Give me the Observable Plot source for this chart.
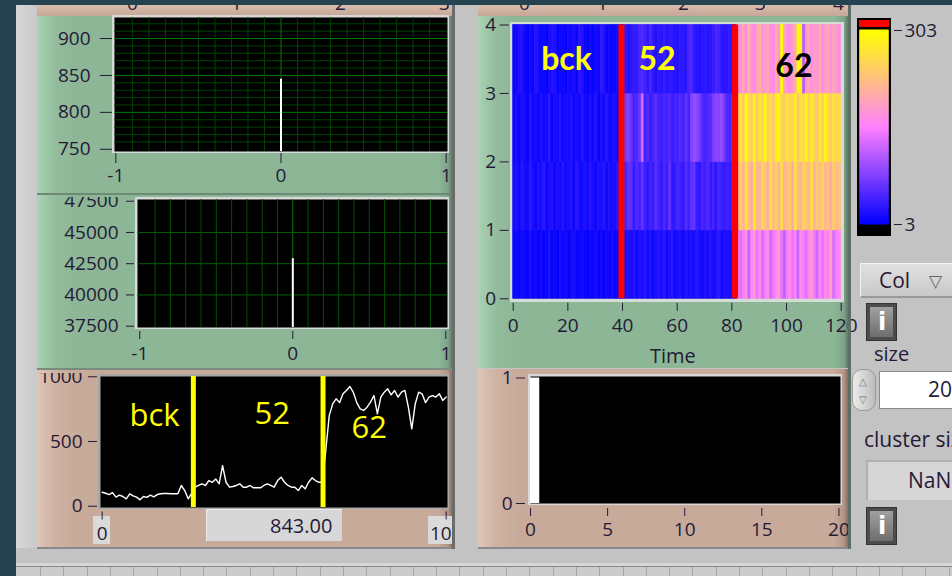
<!DOCTYPE html>
<html><head><meta charset="utf-8">
<script src="https://cdn.jsdelivr.net/npm/d3@7"></script>
<script src="https://cdn.jsdelivr.net/npm/@observablehq/plot@0.6"></script>
<style>
html,body{margin:0;padding:0;background:#24424f;}
#root{position:relative;width:952px;height:576px;overflow:hidden;background:#24424f;font-family:"Open Sans",sans-serif;color:#241a36;}
.abs{position:absolute;box-sizing:border-box;}
.txt{position:absolute;white-space:nowrap;line-height:1;}
</style></head><body><div id="root"></div>
<script>
// ================= DATA =================
// top-left graph: single point at x = 0
const topSpikeX = [0];
const topSpikeValue = [845];
const topXTicks = [-1, 0, 1];
const topYTicks = [750, 800, 850, 900];

// middle-left graph: single point at x = 0
const midSpikeX = [0];
const midSpikeValue = [42900];
const midXTicks = [-1, 0, 1];
const midYTicks = [37500, 40000, 42500, 45000, 47500];

// bottom-left: count trace
const countValues = [108,100,90,105,70,85,75,57,96,80, 70,49,75,68,85,72,90,96,98,98,
  96,96,96,160,121,57,100,147,160,173, 160,198,185,211,173,314,185,147,152,160,
  173,147,147,160,142,142,142,160,173,160, 147,198,224,185,160,147,147,121,160,134,
  185,219,198,185,185,430,700,790,830,800, 868,894,925,880,800,752,740,765,804,855,
  714,843,881,907,860,894,843,881,894,765, 598,790,881,868,800,843,855,843,868,817, 843];
const countMarkers = [26.5, 64.2];
const countLabelText = ["bck", "52", "62"];
const countLabelTime = [15.2, 49.4, 77.6];
const countLabelLevel = [693, 709, 600];
const countXTicks = [0, 100];
const countYTicks = [0, 500, 1000];
const currentValue = "843.00";

// intensity graph: 4 rows x 120 time columns
const heatRow0 = [8,12,6,15,10,5,18,9,12,7, 14,6,10,20,8,11,5,16,9,13, 7,12,18,6,10,14,8,5,12,9, 16,7,11,6,13,8,15,10,6,12,
  14,18,22,15,25,12,20,16,28,14, 22,10,18,24,15,30,12,20,26,14, 18,22,10,25,16,20,14,28,18,12, 22,16,24,14,20,30,15,18,22,16, 20,18,
  160,135,150,175,120,155,185,140,160,130, 150,170,125,145,160,190,135,115,150,165, 140,155,120,170,150,135,160,180,145,125, 155,140,165,150,195,130,150,160];
const heatRow1 = [14,20,10,25,16,12,28,18,10,22, 15,30,12,18,24,10,20,14,26,12, 18,22,10,28,16,12,20,14,24,18, 10,22,16,28,12,20,14,18,24,16,
  30,45,60,55,35,50,40,62,38,30, 42,35,55,40,32,48,36,60,28,34, 44,38,30,52,40,58,62,36,30,45, 38,50,34,42,30,46,38,32,40,36, 44,30,
  225,245,210,265,235,200,280,220,215,255, 235,205,270,225,245,215,260,210,230,240, 200,275,225,215,250,235,220,265,210,240, 225,255,215,235,205,245,220,230];
const heatRow2 = [10,18,8,22,14,6,25,12,16,9, 20,11,15,28,8,18,12,24,10,16, 14,22,9,17,12,26,15,10,20,13, 24,8,18,14,28,11,16,20,10,15,
  55,70,80,60,45,50,65,130,40,50, 35,45,55,40,38,48,42,50,35,45, 40,52,38,60,45,80,90,85,70,50, 42,48,55,75,85,80,90,70,50,45, 60,55,
  255,275,240,300,262,248,290,235,270,255, 300,245,265,238,280,300,252,240,272,258, 248,292,235,266,255,298,245,282,252,236, 272,250,296,262,240,268,250,258];
const heatRow3 = [8,12,20,25,10,6,14,9,24,18, 8,12,6,15,25,20,8,10,12,6, 14,9,18,8,28,22,10,6,12,8, 14,10,30,24,8,12,6,10,14,8,
  25,30,22,28,35,32,45,50,40,30, 48,28,22,30,26,35,24,30,28,25, 22,30,28,26,45,50,30,26,22,28, 30,24,26,35,48,42,30,25,28,32, 30,26,
  190,170,200,165,215,180,160,195,210,175, 185,200,170,160,210,180,300,195,175,165, 185,205,300,290,110,180,200,170,190,175, 205,165,185,200,175,195,180,170];
const heatMarkers = [39.6, 81.2];
const heatLabelText = ["bck", "52", "62"];
const heatLabelTime = [19.5, 52.6, 102.7];
const heatLabelRow = [3.49, 3.49, 3.39];
const heatXTicks = [0, 20, 40, 60, 80, 100, 120];
const heatYTicks = [0, 1, 2, 3, 4];
const colorDomain = [3, 153, 303];
const colorRange = ["#0000ff", "#ff80ff", "#ffff00"];
const colorTicks = [3, 303];

// bottom-right histogram
const histLeft = [0];
const histRight = [0.6];
const histCount = [1];
const histXTicks = [0, 5, 10, 15, 20];
const histYTicks = [0, 1];

// ================= BUILD =================
const INK = "#241a36";
const FONT = '"Open Sans", sans-serif';
const root = document.getElementById("root");
function box(x, y, w, h, css) {
  const d = document.createElement("div");
  d.className = "abs";
  d.style.cssText += `left:${x}px;top:${y}px;width:${w}px;height:${h}px;` + (css || "");
  root.appendChild(d);
  return d;
}
function label(parent, x, y, text, css) {
  const s = document.createElement("div");
  s.className = "txt";
  s.textContent = text;
  s.style.cssText += `left:${x}px;top:${y}px;` + (css || "");
  parent.appendChild(s);
  return s;
}
const GREEN = "linear-gradient(to right,#a9d3b4 0px,#93bc9c 18px,#8db696 40px,#8db696 calc(100% - 14px),#7ea48a calc(100% - 4px),#5f7a66 100%)";
const BEIGE = "linear-gradient(to right,#dfc6b8 0px,#cfb2a2 18px,#c8aa9a 40px,#c8aa9a calc(100% - 14px),#b39585 calc(100% - 4px),#857064 100%)";
const BEIGE_TOP = "linear-gradient(#d9bcac,#c6a797)";

// background
box(16, 5, 936, 571, "background:#c3c3c3;");
box(16, 5, 21, 543, "background:linear-gradient(to right,#d8d8d8,#c9c9c9);");
// left column panels
const lStrip = box(37, 5, 415, 11, "background:" + BEIGE_TOP + ";overflow:hidden;");
[[96, "0"], [200, "1"], [304, "2"], [408, "3"]].forEach(([x, t]) => label(lStrip, x - 6, -11, t, "font-size:19px;color:" + INK));
box(37, 16, 415, 177, "background:" + GREEN + ";");
box(37, 195, 415, 173, "background:" + GREEN + ";");
box(37, 369, 415, 178, "background:" + BEIGE + ";");
box(37, 547, 415, 2, "background:#8a8a8a;");
// right column panels
const rStrip = box(478, 5, 370, 11, "background:" + BEIGE_TOP + ";overflow:hidden;");
[[47, "0"], [125, "1"], [206, "2"], [283, "3"], [361, "4"]].forEach(([x, t]) => label(rStrip, x - 6, -11, t, "font-size:19px;color:" + INK));
box(478, 16, 370, 352, "background:" + GREEN + ";");
box(478, 369, 370, 178, "background:" + BEIGE + ";");
box(478, 547, 370, 2, "background:#8a8a8a;");
// borders behind the plot areas
box(112, 15, 337, 138, "background:#d8d8d8;");
box(135, 197, 314, 132, "background:#d8d8d8;");
box(98, 374, 351, 135, "background:#a8a8a8;");
box(509.5, 21.5, 334, 280, "background:#d3ddd3;");
box(528, 374, 314, 131, "background:#d8d8d8;");
// value display & axis-end label boxes
box(93, 516, 17, 28, "background:#dadada;");
box(428, 516, 24, 28, "background:#dadada;");
const disp = box(206, 509, 136, 32, "background:#d7d7d7;border-top:1px solid #eee;border-left:1px solid #eee;");
label(disp, 63, 6, currentValue, "font-size:20px;color:" + INK);
label(root, 650, 346, "Time", "font-size:20px;color:" + INK);

function chart(x0, y0, x1, y1, opts) {
  const svg = Plot.plot({
    width: 952, height: 576,
    marginLeft: x0, marginTop: y0, marginRight: 952 - x1, marginBottom: 576 - y1,
    style: {fontFamily: FONT, fontSize: "19px", color: INK, background: "transparent", overflow: "visible"},
    ...opts
  });
  svg.style.position = "absolute"; svg.style.left = "0px"; svg.style.top = "0px";
  root.appendChild(svg);
  return svg;
}
const fmt = d => String(d);
const tenths = d3.range(-9, 10).filter(i => i !== 0).map(i => i / 10);

// 1. top-left
chart(114, 17, 447, 151, {
  x: {domain: [-1.008, 1.008], label: null},
  y: {domain: [747, 928.5], label: null},
  marks: [
    Plot.frame({fill: "black"}),
    Plot.gridY(d3.range(760, 930, 10).filter(v => v % 50 !== 0), {stroke: "#004400", strokeOpacity: 1}),
    Plot.gridY([800, 850, 900], {stroke: "#007a00", strokeOpacity: 1}),
    Plot.gridX(tenths, {stroke: "#004400", strokeOpacity: 1}),
    Plot.gridX([0], {stroke: "#007a00", strokeOpacity: 1}),
    Plot.ruleX(topSpikeX.map((x, i) => ({x, v: topSpikeValue[i]})), {x: "x", y1: 747, y2: "v", stroke: "white", strokeWidth: 2}),
    Plot.axisX(topXTicks, {tickSize: 10, tickPadding: 5, dy: 2, tickFormat: fmt, label: null}),
    Plot.axisY(topYTicks, {tickSize: 12, tickPadding: 10, dx: -2, tickFormat: fmt, label: null})
  ]
});

// 2. middle-left
chart(137, 199, 447, 327, {
  x: {domain: [-1.015, 1.011], label: null},
  y: {domain: [37396, 47636], label: null},
  marks: [
    Plot.frame({fill: "black"}),
    Plot.gridX(tenths, {stroke: "#005000", strokeOpacity: 1}),
    Plot.gridX([0], {stroke: "#007a00", strokeOpacity: 1}),
    Plot.gridY([40000, 42500, 45000], {stroke: "#006000", strokeOpacity: 1}),
    Plot.ruleX(midSpikeX.map((x, i) => ({x, v: midSpikeValue[i]})), {x: "x", y1: 37396, y2: "v", stroke: "white", strokeWidth: 2}),
    Plot.axisX(midXTicks, {tickSize: 8, tickPadding: 7, dy: 4, tickFormat: fmt, label: null}),
    Plot.axisY(midYTicks, {tickSize: 8, tickPadding: 8, dx: -3, tickFormat: fmt, label: null})
  ]
});

// 3. bottom-left count trace
chart(100, 376, 447, 507, {
  x: {domain: [-0.49, 100.38], label: null},
  y: {domain: [-10, 1002], label: null},
  marks: [
    Plot.frame({fill: "black"}),
    Plot.line(countValues.map((v, t) => ({t, v})), {x: "t", y: "v", stroke: "white", strokeWidth: 1.4}),
    Plot.ruleX(countMarkers, {stroke: "#ffff00", strokeWidth: 5}),
    Plot.text(countLabelText.map((text, i) => ({text, t: countLabelTime[i], v: countLabelLevel[i]})),
      {x: "t", y: "v", text: "text", fill: "#ffff00", fontSize: 31, fontFamily: FONT}),
    Plot.axisX(countXTicks, {tickSize: 8, tickPadding: 6, dy: 4.5, tickFormat: fmt, label: null}),
    Plot.axisY(countYTicks, {tickSize: 9, tickPadding: 6, dx: -3, tickFormat: fmt, label: null})
  ]
});

// 4. intensity graph
const heatCells = [heatRow0, heatRow1, heatRow2, heatRow3].flatMap((row, r) => row.map((v, t) => ({t, r, v})));
const colorScale = {type: "linear", domain: colorDomain, range: colorRange, interpolate: "rgb"};
const heatLabels = heatLabelText.map((text, i) => ({text, t: heatLabelTime[i], r: heatLabelRow[i]}));
chart(512.7, 24.5, 840.7, 298.3, {
  x: {domain: [0, 120], label: null},
  y: {domain: [0, 4], label: null},
  color: colorScale,
  marks: [
    Plot.rect(heatCells, {x1: "t", x2: d => d.t + 1, y1: "r", y2: d => d.r + 1, fill: "v", stroke: "v", strokeWidth: 0.6}),
    Plot.ruleX(heatMarkers, {stroke: "#ff0000", strokeWidth: 6}),
    Plot.text(heatLabels.filter(d => d.text !== "62"), {x: "t", y: "r", text: "text", fill: "#ffff00", fontSize: 32, fontWeight: "bold", fontFamily: "Lato, sans-serif"}),
    Plot.text(heatLabels.filter(d => d.text === "62"), {x: "t", y: "r", text: "text", fill: "#000000", fontSize: 32, fontWeight: "bold", fontFamily: "Lato, sans-serif"}),
    Plot.axisX(heatXTicks, {tickSize: 8, tickPadding: 7, dy: 4.5, tickFormat: fmt, label: null}),
    Plot.axisY(heatYTicks, {tickSize: 9, tickPadding: 4, dx: -4, tickFormat: fmt, label: null})
  ]
});

// 5. histogram
chart(530, 376, 840, 503, {
  x: {domain: [0, 20.1], label: null},
  y: {domain: [0, 1.012], label: null},
  marks: [
    Plot.frame({fill: "black"}),
    Plot.rectY(histLeft.map((x0, i) => ({x0, x1: histRight[i], c: histCount[i]})), {x1: "x0", x2: "x1", y: "c", fill: "white"}),
    Plot.axisX(histXTicks, {tickSize: 8, tickPadding: 6, dy: 5, tickFormat: fmt, label: null}),
    Plot.axisY(histYTicks, {tickSize: 9, tickPadding: 4, dx: -5, tickFormat: fmt, label: null})
  ]
});

// color ramp
box(857, 18, 34, 218, "background:#000;");
box(859, 20, 30, 7, "background:#ff0000;");
chart(860, 30, 888, 224, {
  x: {domain: [0, 1], axis: null},
  y: {domain: [3, 303], label: null},
  color: colorScale,
  marks: [
    Plot.rect(d3.range(3, 303), {x1: 0, x2: 1, y1: d => d, y2: d => d + 1, fill: d => d + 0.5, stroke: d => d + 0.5, strokeWidth: 1}),
    Plot.axisY(colorTicks, {anchor: "right", tickSize: 8, tickPadding: 3, dx: 5, tickFormat: fmt, label: null})
  ]
});

// covers (panel separators drawn above the graphs)
box(37, 189, 415, 4, "background:" + GREEN + ";");
box(37, 193, 415, 2, "background:#6d8a75;");
box(37, 195, 415, 2, "background:" + GREEN + ";");
box(37, 362, 415, 6, "background:" + GREEN + ";");
box(37, 368, 415, 2, "background:#7a8c80;");
box(37, 370, 415, 3, "background:" + BEIGE + ";");
box(452, 5, 26, 548, "background:#c3c3c3;");
box(452, 5, 3, 544, "background:#6b6b6b;");
box(848, 5, 3, 544, "background:#5d6e62;");
box(851, 5, 5, 250, "background:#c3c3c3;");
box(16, 549, 936, 14, "background:#c3c3c3;");
box(16, 563, 936, 3, "background:#d6d6d6;");
box(16, 566, 936, 1, "background:#8c8c8c;");
const ruler = box(16, 567, 936, 9, "background:#cbcbcb;");
for (let x = 24; x < 936; x += 23.3) {
  const t = document.createElement("div"); t.className = "abs";
  t.style.cssText += `left:${x}px;top:0;width:1px;height:9px;background:#a6a6a6;`; ruler.appendChild(t);
}

// controls on the right
const ring = box(860, 263, 100, 35, "background:linear-gradient(#e0e0e0,#c9c9c9);border-top:1px solid #f4f4f4;border-left:1px solid #f4f4f4;border-bottom:2px solid #999;");
label(ring, 18, 6, "Col", "font-size:21px;color:" + INK);
label(ring, 68, 8, "▽", "font-size:17px;color:#666;");
function infoButton(y) {
  const b = box(866, y, 31, 38, "background:#4c4c4c;border:1px solid #333;padding:3px;");
  const inner = document.createElement("div");
  inner.style.cssText = "width:100%;height:100%;background:linear-gradient(#a0a0a0,#6e6e6e);position:relative;";
  b.appendChild(inner);
  label(inner, 8, 3, "i", "font-size:24px;font-weight:bold;color:#fff;font-family:'DejaVu Sans',sans-serif;");
}
infoButton(303);
label(root, 874, 344, "size", "font-size:20px;color:" + INK);
const spin = box(852, 369, 24, 42, "border-radius:10px;background:linear-gradient(to right,#ececec,#bcbcbc);border:1px solid #9a9a9a;");
label(spin, 6, 6, "△", "font-size:10px;color:#777;");
label(spin, 6, 24, "▽", "font-size:10px;color:#777;");
const num = box(879, 371, 80, 38, "background:#fff;border:1px solid #8a8a8a;border-right:none;");
label(num, 48, 7, "20", "font-size:21px;color:" + INK);
label(root, 864, 429, "cluster size", "font-size:21px;color:" + INK);
const nan = box(866, 460, 90, 40, "background:#d6d6d6;border-top:2px solid #b0b0b0;border-left:2px solid #b0b0b0;");
label(nan, 40, 8, "NaN", "font-size:21px;color:" + INK);
infoButton(507);
</script></body></html>
